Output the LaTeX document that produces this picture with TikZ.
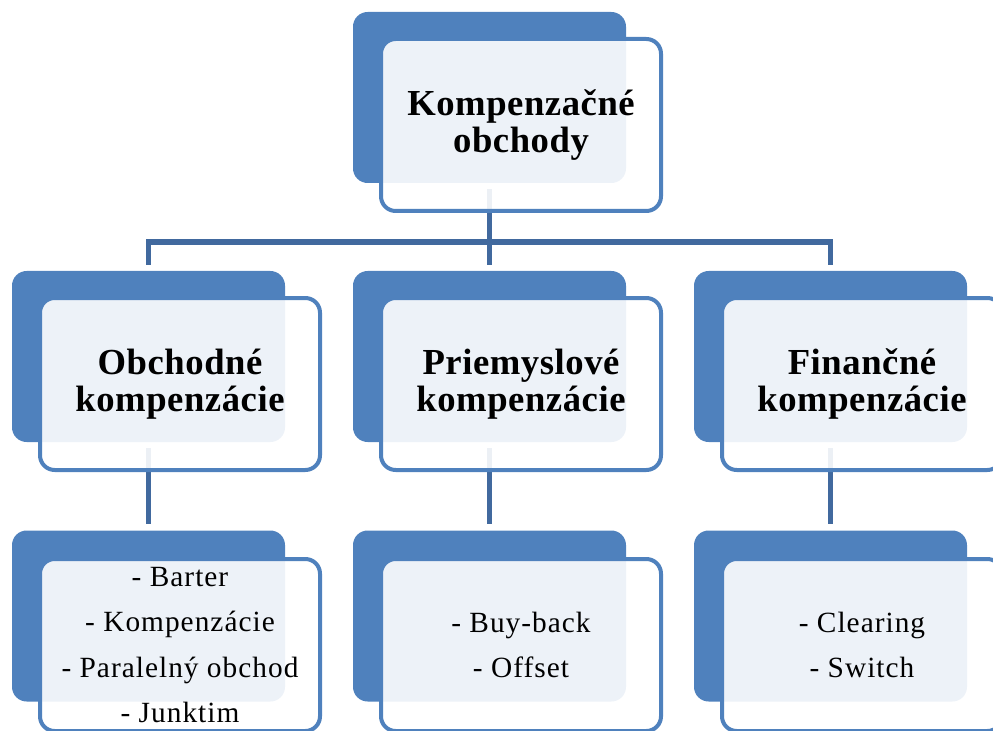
\documentclass[tikz,border=0pt]{standalone}
\usepackage{fontspec}
\setmainfont{Liberation Serif}
\newfontfamily\kmptitlefont[LetterSpace=1.5]{Liberation Serif}
\newfontfamily\kmpitemfont[LetterSpace=3.5]{Liberation Serif}
\definecolor{kmpBlue}{HTML}{4F81BD}
\definecolor{kmpLink}{HTML}{41699E}
\tikzset{
  kmp back/.style={fill=kmpBlue, rounded corners=11pt, minimum width=204.75pt, minimum height=128.25pt, inner sep=0pt},
  kmp front/.style={draw=kmpBlue, fill=white, fill opacity=0.9, text opacity=1, line width=3pt, rounded corners=11pt, minimum width=210pt, minimum height=129pt, inner sep=0pt, align=center},
  kmp link/.style={draw=kmpLink, line width=4.2pt, shorten <=4.5pt, shorten >=4.5pt},
  kmp title/.style={font=\kmptitlefont\bfseries\fontsize{27.5}{28}\selectfont},
  kmp item/.style={font=\kmpitemfont\fontsize{22}{34}\selectfont},
}

\begin{document}
\begin{tikzpicture}[x=0.75pt,y=-0.75pt]
\useasboundingbox(0,0)rectangle(993,731);
\clip(0,0)rectangle(993,731);
% back plates
\node[kmp back](topB)at(489.5,97.5){};
\foreach \c/\x in {l/148.5,m/489.5,r/830.5}{\node[kmp back](\c B)at(\x,356.5){};\node[kmp back](\c bB)at(\x,616){};}
% links
\draw[kmp link](topB.south)--++(0,59)-|(lB.north);
\draw[kmp link](topB.south)--++(0,59)-|(rB.north);
\draw[kmp link](topB.south)--(mB.north);
\foreach \c in {l,m,r}{\draw[kmp link](\c B.south)--(\c bB.north);}
% front boxes
\node[kmp front,kmp title](top)at([shift={(31.5,27.5)}]topB.center){Kompenzačné\\obchody};
\node[kmp front,kmp title](obch)at([shift={(31.5,27.5)}]lB.center){Obchodné\\kompenzácie};
\node[kmp front,kmp title](prie)at([shift={(31.5,27.5)}]mB.center){Priemyslové\\kompenzácie};
\node[kmp front,kmp title](fina)at([shift={(31.5,27.5)}]rB.center){Finančné\\kompenzácie};
\node[kmp front,kmp item](obchI)at([shift={(31.5,29)}]lbB.center){- Barter\\- Kompenzácie\\- Paralelný obchod\\- Junktim};
\node[kmp front,kmp item](prieI)at([shift={(31.5,29)}]mbB.center){- Buy-back\\- Offset};
\node[kmp front,kmp item](finaI)at([shift={(31.5,29)}]rbB.center){- Clearing\\- Switch};
\end{tikzpicture}
\end{document}
